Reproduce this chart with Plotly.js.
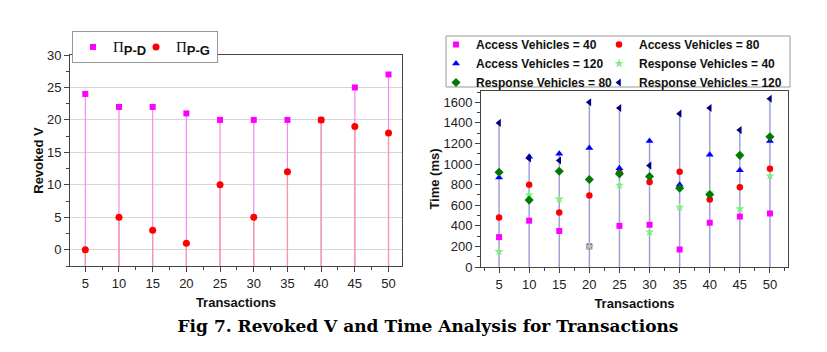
<!DOCTYPE html>
<html><head><meta charset="utf-8">
<script src="https://cdn.plot.ly/plotly-3.0.1.min.js"></script>
<style>html,body{margin:0;padding:0;background:#fff}#chart{width:827px;height:352px}</style>
</head><body><div id="chart"></div>
<script>
// ---- data ----
const transactions = [5,10,15,20,25,30,35,40,45,50];
const revokedPD = [24,22,22,21,20,20,20,20,25,27];
const revokedPG = [0,5,3,1,10,5,12,20,19,18];
const access40 = [290,450,350,200,400,410,170,430,490,520];
const access80 = [480,800,530,695,915,825,925,655,775,955];
const access120 = [870,1070,1100,1155,960,1225,800,1090,940,1225];
const response40 = [150,700,660,200,795,340,580,720,565,885];
const response80 = [920,650,930,850,905,880,765,705,1085,1265];
const response120 = [1400,1055,1035,1600,1545,985,1490,1545,1330,1635];
const leftNames = ['<span style="font-family:\'Liberation Serif\',serif;font-weight:normal;font-size:15px">Π</span><sub><span style="font-size:13px">P-D</span></sub>',
                   '<span style="font-family:\'Liberation Serif\',serif;font-weight:normal;font-size:15px">Π</span><sub><span style="font-size:13px">P-G</span></sub>'];
const rightNames = ['Access Vehicles = 40','Access Vehicles = 80','Access Vehicles = 120',
                    'Response Vehicles = 40','Response Vehicles = 80','Response Vehicles = 120'];

const W = 827, H = 352;
const px = v => v / W, py = v => 1 - v / H;
const leftRange = [-2.5, 30];
const rightRange = [0, 1710];
const SANS = '"Liberation Sans", Arial, sans-serif';

function dropTrace(vals, base, color, xa, ya, width) {
  return {x: transactions, y: vals, xaxis: xa, yaxis: ya, mode: 'markers', type: 'scatter',
    marker: {opacity: 0, size: 2}, showlegend: false, hoverinfo: 'skip',
    error_y: {type: 'data', symmetric: false, array: vals.map(() => 0),
      arrayminus: vals.map(v => v - base), width: 0, thickness: width, color: color}};
}
function pts(vals, name, sym, color, size, xa, ya, legend, lw) {
  const t = {x: transactions, y: vals, name: name, xaxis: xa, yaxis: ya, mode: 'markers', type: 'scatter',
    marker: {symbol: sym, color: color, size: size, line: {width: 0}}, legend: legend};
  if (lw) t.legendwidth = lw;
  return t;
}

const rightSeries = [access40, access80, access120, response40, response80, response120];
const rightMax = transactions.map((_, i) => Math.max(...rightSeries.map(s => s[i])));

const data = [
  dropTrace(revokedPD, leftRange[0], '#f28af2', 'x', 'y', 1.2),
  dropTrace(revokedPG, leftRange[0], '#f49a9a', 'x', 'y', 1.2),
  dropTrace(rightMax, rightRange[0], 'rgba(130,130,205,0.75)', 'x2', 'y2', 1.5),
  pts(revokedPD, leftNames[0], 'square', '#ff00ff', 6, 'x', 'y', 'legend', 18),
  pts(revokedPG, leftNames[1], 'circle', '#ff0000', 7, 'x', 'y', 'legend', 36),
  pts(access40, rightNames[0], 'square', '#ff00ff', 6, 'x2', 'y2', 'legend2'),
  pts(access80, rightNames[1], 'circle', '#ff0000', 6.5, 'x2', 'y2', 'legend3'),
  pts(access120, rightNames[2], 'triangle-up', '#0000ff', 7, 'x2', 'y2', 'legend2'),
  pts(response40, rightNames[3], 'star', '#80ee80', 7, 'x2', 'y2', 'legend3'),
  pts(response80, rightNames[4], 'diamond', '#007a00', 7, 'x2', 'y2', 'legend2'),
  pts(response120, rightNames[5], 'triangle-left', '#00007f', 7, 'x2', 'y2', 'legend3')
];

const axisCommon = {
  ticks: 'outside', ticklen: 5, tickwidth: 1, tickcolor: '#444',
  showline: true, linecolor: '#444', linewidth: 1, mirror: true, zeroline: false,
  tickfont: {family: SANS, size: 13, color: '#222'}
};
const titleFont = {family: SANS, size: 13, weight: 'bold', color: '#111'};

const layout = {
  width: W, height: H, margin: {l: 0, r: 0, t: 0, b: 0},
  paper_bgcolor: '#fff', plot_bgcolor: '#fff',
  font: {family: SANS, size: 13, color: '#111'},
  title: {text: '<b>Fig 7. Revoked V and Time Analysis for Transactions</b>',
    font: {family: '"DejaVu Serif", serif', size: 17, color: '#000'},
    x: 428 / W, xanchor: 'center', y: py(326), yanchor: 'middle', yref: 'container'},
  xaxis: Object.assign({}, axisCommon, {domain: [px(70), px(402)], range: [2.73, 52], anchor: 'y',
    tick0: 0, dtick: 5, showgrid: false,
    minor: {dtick: 2.5, ticks: 'outside', ticklen: 3, tickcolor: '#444', showgrid: false},
    title: {text: 'Transactions', font: titleFont, standoff: 8}}),
  yaxis: Object.assign({}, axisCommon, {domain: [py(266), py(55)], range: leftRange, anchor: 'x',
    tick0: 0, dtick: 5, showgrid: true, gridcolor: '#d6d6d6', gridwidth: 1,
    minor: {dtick: 2.5, ticks: 'outside', ticklen: 3, tickcolor: '#444', showgrid: false},
    title: {text: 'Revoked V', font: titleFont, standoff: 0}}),
  xaxis2: Object.assign({}, axisCommon, {domain: [px(481), px(788)], range: [2, 53], anchor: 'y2',
    tick0: 0, dtick: 5, showgrid: false,
    minor: {dtick: 2.5, ticks: 'outside', ticklen: 3, tickcolor: '#444', showgrid: false},
    title: {text: 'Transactions', font: titleFont, standoff: 8}}),
  yaxis2: Object.assign({}, axisCommon, {domain: [py(267), py(91)], range: rightRange, anchor: 'x2',
    tick0: 0, dtick: 200, showgrid: false,
    minor: {dtick: 100, ticks: 'outside', ticklen: 3, tickcolor: '#444', showgrid: false},
    title: {text: 'Time (ms)', font: titleFont, standoff: 0}}),
  legend: {x: px(72), y: py(31), xanchor: 'left', yanchor: 'top', orientation: 'h',
    bordercolor: '#999', borderwidth: 1, bgcolor: '#fff',
    font: {family: SANS, size: 13, weight: 'bold', color: '#111'}},
  legend2: {x: px(436), y: py(30), xanchor: 'left', yanchor: 'top', orientation: 'v',
    borderwidth: 0, bgcolor: 'rgba(0,0,0,0)', font: {family: SANS, size: 12, weight: 'bold', color: '#111'}},
  legend3: {x: px(599), y: py(30), xanchor: 'left', yanchor: 'top', orientation: 'v',
    borderwidth: 0, bgcolor: 'rgba(0,0,0,0)', font: {family: SANS, size: 12, weight: 'bold', color: '#111'}},
  shapes: [{type: 'rect', xref: 'paper', yref: 'paper', x0: px(446), x1: px(790), y0: py(87), y1: py(36),
    line: {color: '#999', width: 1}, fillcolor: 'rgba(0,0,0,0)'}]
};

Plotly.newPlot('chart', data, layout, {displayModeBar: false, staticPlot: true});
</script>
</body></html>
